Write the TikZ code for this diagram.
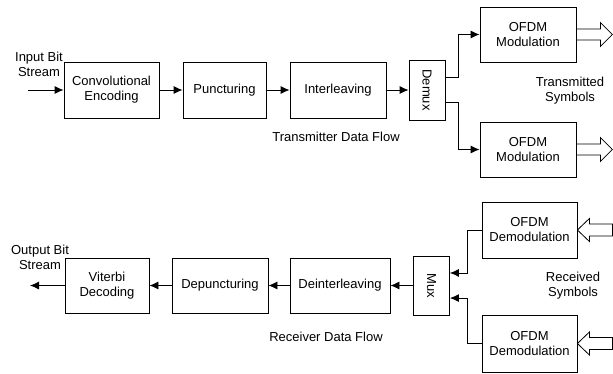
\documentclass[tikz,border=0pt]{standalone}
\usepackage{fontspec}
\setmainfont{Liberation Sans}
\usetikzlibrary{arrows.meta,calc}
\begin{document}
\begin{tikzpicture}[x=1pt,y=-1pt,
  blk/.style={draw,line width=0.8pt,align=center,inner sep=0pt,font=\fontsize{13}{15}\selectfont},
  lbl/.style={align=center,inner sep=0pt,font=\fontsize{13}{15}\selectfont},
  arr/.style={line width=0.8pt,-{Latex[length=9pt,width=8pt]}},
  ln/.style={line width=0.8pt},
  hollow/.style={line width=0.8pt,line join=miter}]
\useasboundingbox (0,0) rectangle (613,373);
% transmitter
\node[blk,minimum width=95pt,minimum height=56pt] (conv) at (111.5,90) {Convolutional\\Encoding};
\node[blk,minimum width=83pt,minimum height=56pt] (punct) at (224.5,90) {Puncturing};
\node[blk,minimum width=96pt,minimum height=56pt] (inter) at (338,90) {Interleaving};
\node[blk,minimum width=36pt,minimum height=60pt] (demux) at (427,90) {\rotatebox{-90}{Demux}};
\node[blk,minimum width=96pt,minimum height=55pt] (ofdm1) at (528,34.5) {OFDM\\Modulation};
\node[blk,minimum width=96pt,minimum height=55pt] (ofdm2) at (528,149.5) {OFDM\\Modulation};
\coordinate (inp) at (28,90);
\node[lbl] (inlbl) at (39,64) {Input Bit\\Stream};
\node[lbl] (txlbl) at (336,137) {Transmitter Data Flow};
\node[lbl] (tslbl) at (570,91) {Transmitted\\Symbols};
\draw[arr] (inp) -- (conv.west);
\draw[arr] (conv) -- (punct);
\draw[arr] (punct) -- (inter);
\draw[arr] (inter) -- (demux);
\coordinate (d1) at ($(demux.north east)!0.3!(demux.south east)$);
\coordinate (d2) at ($(demux.north east)!0.7!(demux.south east)$);
\draw[arr] (d1) -- ++(13,0) |- (ofdm1.west);
\draw[arr] (d2) -- ++(13,0) |- (ofdm2.west);
\foreach \n in {ofdm1,ofdm2}{
  \draw[hollow] ($(\n.east)+(0,-5.5)$) -- ++(24,0) -- ++(0,-6.5) -- ++(12,12) -- ++(-12,12) -- ++(0,-6.5) -- ++(-24,0);
}
% receiver
\node[blk,minimum width=84pt,minimum height=55pt] (vit) at (107,285.5) {Viterbi\\Decoding};
\node[blk,minimum width=96pt,minimum height=55pt] (depunct) at (220,285.5) {Depuncturing};
\node[blk,minimum width=100pt,minimum height=55pt] (deinter) at (340,285.5) {Deinterleaving};
\node[blk,minimum width=36pt,minimum height=59pt] (mux) at (431.5,285.5) {\rotatebox{-90}{Mux}};
\node[blk,minimum width=95pt,minimum height=56pt] (dem1) at (529.5,230) {OFDM\\Demodulation};
\node[blk,minimum width=95pt,minimum height=57pt] (dem2) at (529.5,343.5) {OFDM\\Demodulation};
\coordinate (outp) at (30,285.5);
\node[lbl] (outlbl) at (40,257) {Output Bit\\Stream};
\node[lbl] (rxlbl) at (326,337) {Receiver Data Flow};
\node[lbl] (rslbl) at (573,285.5) {Received\\Symbols};
\coordinate (m1) at ($(mux.north east)!0.29!(mux.south east)$);
\coordinate (m2) at ($(mux.north east)!0.71!(mux.south east)$);
\draw[arr] (dem1.west) -- ++(-14,0) |- (m1);
\draw[arr] (dem2.west) -- ++(-14,0) |- (m2);
\draw[arr] (mux) -- (deinter);
\draw[arr] (deinter) -- (depunct);
\draw[arr] (depunct) -- (vit);
\draw[arr] (vit.west) -- (outp);
\foreach \n in {dem1,dem2}{
  \draw[hollow] (\n.east) -- ++(12,-11.5) -- ++(0,5.5) -- ++(23,0) -- ++(0,12) -- ++(-23,0) -- ++(0,5.5) -- cycle;
}
\end{tikzpicture}
\end{document}
